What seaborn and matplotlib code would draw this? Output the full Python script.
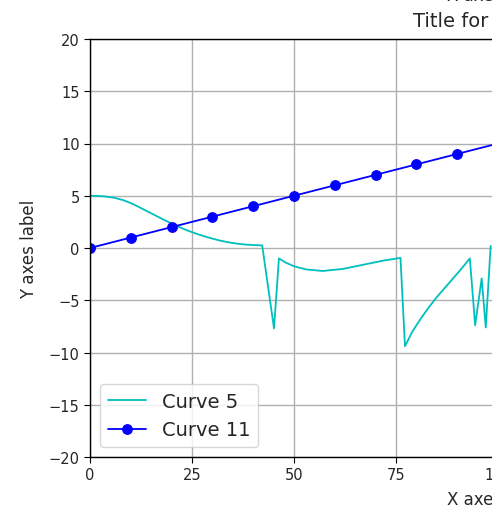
import matplotlib
matplotlib.use("Agg")
import matplotlib.pyplot as plt
import seaborn as sns

# values
curve5_x = [0, 2, 4, 6, 8, 10, 12, 14, 16, 18, 20, 22, 24, 26, 28, 30,
            32, 34, 36, 38, 40, 42.2,
            45.1, 46.3, 48, 50, 53, 57, 62, 67, 72, 76.1,
            77.2, 79, 81, 83, 85, 87, 89, 91, 93.1,
            94.4, 96.0, 97.0, 98.2]
curve5_y = [5.0, 4.98, 4.92, 4.8, 4.6, 4.3, 3.92, 3.52, 3.12, 2.72, 2.34,
            1.98, 1.66, 1.38, 1.12, 0.9, 0.7, 0.54, 0.42, 0.33, 0.28, 0.25,
            -7.7, -1.0, -1.4, -1.75, -2.05, -2.2, -2.0, -1.6, -1.2, -0.95,
            -9.4, -8.0, -6.8, -5.7, -4.7, -3.8, -2.9, -2.0, -1.0,
            -7.4, -2.9, -7.6, 0.2]
curve11_x = [0, 10, 20, 30, 40, 50, 60, 70, 80, 90, 100]
curve11_y = [0, 1, 2, 3, 4, 5, 6, 7, 8, 9, 10]
x_ticks = [0, 25, 50, 75, 100]
y_ticks = [-20, -15, -10, -5, 0, 5, 10, 15, 20]

W, H = 492, 510
sns.set_style("ticks", {"axes.grid": True, "grid.color": "#b0b0b0",
                        "axes.edgecolor": "black"})
plt.rcParams['font.family'] = ['DejaVu Sans']

fig = plt.figure(figsize=(W / 100, H / 100), dpi=100)
# the reference is a crop: the plot area runs past the right edge
ax = fig.add_axes([90 / W, 1 - 458 / H, 408 / W, 418 / H])

sns.lineplot(x=curve5_x, y=curve5_y, sort=False, estimator=None, color="c",
             linewidth=1.3, label="Curve 5", ax=ax)
sns.lineplot(x=curve11_x, y=curve11_y, sort=False, estimator=None, color="b",
             linewidth=1.3, marker="o", markersize=7, markeredgecolor="b",
             label="Curve 11", ax=ax)

ax.set_xlim(0, 100)
ax.set_ylim(-20, 20)
ax.set_xticks(x_ticks)
ax.set_yticks(y_ticks)
ax.tick_params(labelsize=10.5, direction="out", length=4, color="black")
ax.grid(True, linewidth=1.0, color="#b0b0b0")
for sp in ax.spines.values():
    sp.set_visible(True)
    sp.set_linewidth(1.0)

ax.set_ylabel("Y axes label", fontsize=12)
ax.yaxis.set_label_coords((38 - 90) / 408, 0.5)
ax.set_xlabel("X axes label", fontsize=12, ha="left", va="baseline")
ax.xaxis.set_label_coords((447 - 90) / 408, (458 - 505) / 418)

fig.text(413 / W, 1 - 27 / H, "Title for the plot", fontsize=14,
         ha="left", va="baseline")
fig.text(447 / W, 1 - 1 / H, "X axes label", fontsize=12,
         ha="left", va="baseline")

ax.legend(loc="lower left", fontsize=14, frameon=True, framealpha=0.8,
          edgecolor="#cccccc", fancybox=True)

fig.savefig("out.png", dpi=100)
